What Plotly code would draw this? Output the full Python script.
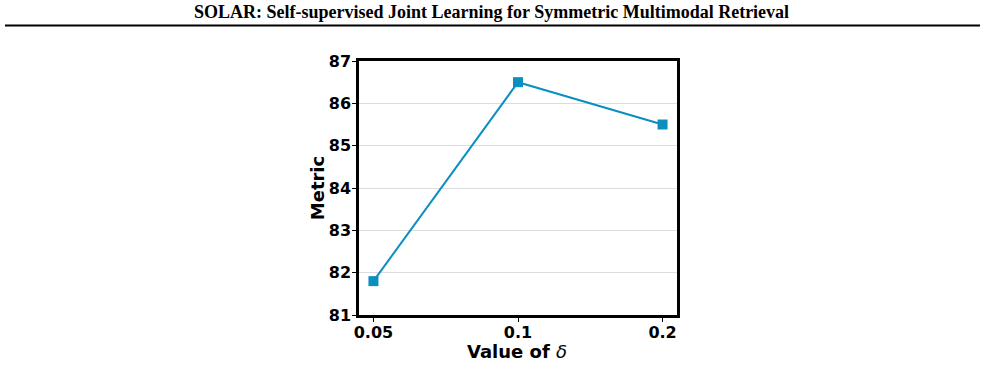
import plotly.graph_objects as go

delta_labels = ["0.05", "0.1", "0.2"]
metric_values = [81.8, 86.5, 85.5]
y_ticks = [81, 82, 83, 84, 85, 86, 87]

header_text = "SOLAR: Self-supervised Joint Learning for Symmetric Multimodal Retrieval"

W, H = 985, 385
ML, MR, MT, MB = 359, 308, 61, 70
pw, ph = W - ML - MR, H - MT - MB


def px_x(x):
    return (x - ML) / pw


def px_y(y):
    return (H - MB - y) / ph


fig = go.Figure()
fig.add_trace(go.Scatter(
    x=delta_labels, y=metric_values, mode="lines+markers",
    line=dict(color="#0a8fbf", width=2),
    marker=dict(symbol="square", size=10, color="#0a8fbf"),
    showlegend=False,
))

font_bold = dict(family="DejaVu Sans", size=16, color="black", weight="bold")

fig.update_layout(
    width=W, height=H,
    margin=dict(l=ML, r=MR, t=MT, b=MB),
    paper_bgcolor="white", plot_bgcolor="white",
    xaxis=dict(
        type="category", range=[-0.1, 2.1],
        showline=True, mirror=True, linecolor="black", linewidth=2.5,
        ticks="outside", ticklen=4, tickwidth=1.2, tickcolor="black",
        ticklabelstandoff=-3,
        tickfont=font_bold, showgrid=False,
    ),
    yaxis=dict(
        range=[81, 87], tickvals=y_ticks,
        showline=True, mirror=True, linecolor="black", linewidth=2.5,
        ticks="outside", ticklen=4, tickwidth=1.2, tickcolor="black",
        ticklabelstandoff=-2,
        tickfont=font_bold, showgrid=True, gridcolor="#dcdcdc", gridwidth=1,
        zeroline=False,
        title=dict(text="<b>Metric</b>",
                   font=dict(family="DejaVu Sans", size=18, color="black"), standoff=0),
    ),
)

# x-axis title
fig.add_annotation(
    x=px_x(517), y=px_y(351), xref="paper", yref="paper", showarrow=False,
    text="<b>Value of </b><i>δ</i>",
    font=dict(family="DejaVu Sans", size=18, color="black"),
    xanchor="center", yanchor="middle",
)

fig.add_annotation(
    x=px_x(491), y=px_y(12), xref="paper", yref="paper", showarrow=False,
    text="<b>" + header_text + "</b>",
    font=dict(family="Liberation Serif", size=18, color="black"),
    xanchor="center", yanchor="middle",
)
fig.add_shape(type="line", xref="paper", yref="paper",
              x0=px_x(5), x1=px_x(980), y0=px_y(25.5), y1=px_y(25.5),
              line=dict(color="black", width=2))

fig.write_html("out.html")
